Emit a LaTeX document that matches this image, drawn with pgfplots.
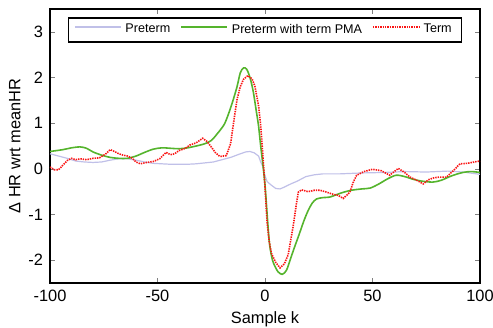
\documentclass[border=0pt]{standalone}
\usepackage{pgfplots}
\pgfplotsset{compat=1.18}
\usepackage{fontspec}
\setmainfont{Liberation Sans}
\definecolor{pre}{RGB}{192,192,232}
\definecolor{grn}{RGB}{85,180,45}
\definecolor{trm}{RGB}{250,20,20}
\begin{document}
\begin{tikzpicture}
\useasboundingbox (-25pt,-22pt) rectangle (221.5pt,141.5pt);
\begin{axis}[
  at={(0,0)}, anchor=south west,
  scale only axis, width=215pt, height=137pt,
  xmin=-100, xmax=100, ymin=-2.5, ymax=3.5,
  xtick={-100,-50,0,50,100}, ytick={-2,-1,0,1,2,3},
  tick align=inside, major tick length=2.5pt,
  font=\fontsize{8.2}{10}\selectfont,
  /pgf/number format/assume math mode=true,
  xlabel={Sample k}, ylabel={Δ HR wrt meanHR},
  xlabel style={yshift=2pt},
  ylabel style={yshift=-3pt},
  axis line style={line width=0.6pt},
  legend columns=3,
  legend style={at={(0.5,0.97)}, anchor=north, draw=black, line width=0.7pt,
    font=\fontsize{6.3}{7.5}\selectfont, inner xsep=3pt, inner ysep=1.5pt,
    nodes={inner xsep=2pt, inner ysep=1.5pt},
    /tikz/every even column/.append style={column sep=3pt}},
  legend image code/.code={\draw[#1] (0pt,1.5pt) -- (23pt,1.5pt);},
]
\addplot[pre, line width=0.6pt] coordinates {
(-100,0.33) (-96,0.28) (-92,0.23) (-88,0.17) (-84,0.15) (-80,0.14) (-76,0.15)
(-72,0.19) (-68,0.22) (-64,0.22) (-60,0.19) (-56,0.15) (-52,0.12) (-48,0.11)
(-44,0.10) (-40,0.10) (-36,0.10) (-32,0.11) (-28,0.13) (-24,0.15) (-20,0.20)
(-16,0.25) (-12,0.32) (-9,0.37) (-7,0.38) (-5,0.35) (-3,0.28) (-2,0.15)
(-1,0.05) (0,-0.15) (1,-0.28) (3,-0.36) (5,-0.43) (7,-0.44) (9,-0.40)
(12,-0.33) (15,-0.27) (19,-0.17) (23,-0.13) (27,-0.11) (35,-0.11) (45,-0.09)
(55,-0.08) (65,-0.06) (75,-0.07) (85,-0.05) (92,-0.07) (100,-0.12)
};
\addlegendentry{Preterm}
\addplot[grn, line width=0.8pt, smooth] coordinates {
(-100,0.38) (-94,0.42) (-90,0.46) (-86,0.48) (-83,0.45) (-80,0.37) (-76,0.30)
(-72,0.25) (-68,0.23) (-64,0.23) (-60,0.28) (-56,0.36) (-52,0.43) (-48,0.46)
(-44,0.45) (-40,0.44) (-36,0.46) (-32,0.50) (-28,0.55) (-25,0.62) (-22,0.78)
(-19,0.97) (-17,1.20) (-15,1.48) (-13,1.80) (-11.5,2.10) (-10,2.21) (-8.5,2.18)
(-7,2.00) (-5.5,1.70) (-4,1.25) (-3,0.94) (-2,0.50) (-1,0.1) (0,-0.35)
(1,-1.0) (2,-1.60) (3,-1.90) (4,-2.07) (6,-2.25) (8,-2.31) (10,-2.22)
(12,-1.95) (14,-1.68) (16,-1.42) (18,-1.15) (20,-0.92) (22,-0.75) (24,-0.66)
(27,-0.63) (30,-0.62) (33,-0.57) (36,-0.52) (40,-0.47) (45,-0.44) (49,-0.42)
(53,-0.33) (57,-0.22) (61,-0.14) (65,-0.17) (69,-0.23) (73,-0.27) (78,-0.29)
(82,-0.25) (87,-0.15) (92,-0.08) (96,-0.06) (100,-0.08)
};
\addlegendentry{Preterm with term PMA}
\addplot[trm, line width=0.8pt, dash pattern=on 0.7pt off 0.5pt] coordinates {
(-100,0.04) (-98,-0.02) (-96,-0.02) (-94,0.08) (-92,0.18) (-90,0.23) (-88,0.20)
(-86,0.22) (-83,0.20) (-80,0.23) (-77,0.24) (-74,0.33) (-72,0.42) (-70,0.38)
(-68,0.33) (-66,0.30) (-64,0.28) (-62,0.24) (-60,0.15) (-58,0.11) (-55,0.14)
(-52,0.16) (-49,0.22) (-46,0.36) (-44,0.31) (-42,0.33) (-40,0.40) (-37,0.45)
(-35,0.52) (-32,0.57) (-29,0.67) (-27,0.60) (-25.5,0.51) (-23,0.35) (-21,0.27)
(-18,0.29) (-16,0.55) (-14.5,1.05) (-13,1.52) (-11.5,1.80) (-10,1.96) (-8,2.04)
(-6,1.97) (-4.7,1.81) (-3,1.38) (-2,0.95) (-1,0.3) (0,-0.4) (1,-1.2)
(2,-1.6) (3,-1.85) (5,-2.05) (7,-2.17) (9,-2.08) (10.8,-1.88) (12,-1.55)
(13.2,-1.23) (14.5,-0.80) (15.5,-0.51) (17,-0.46) (20,-0.50) (23,-0.47) (25.6,-0.47)
(28,-0.50) (31.8,-0.56) (34,-0.58) (36.4,-0.65) (39.5,-0.51) (41,-0.30) (42.6,-0.14)
(46,-0.06) (50,-0.01) (54,-0.04) (58,-0.14) (62,0.01) (65,-0.08) (67.4,-0.18)
(71,-0.26) (73.6,-0.33) (76,-0.24) (78.3,-0.20) (81,-0.18) (84.5,-0.18) (88,-0.02)
(90.7,0.11) (94,0.12) (98.5,0.16) (100,0.17)
};
\addlegendentry{Term}
\end{axis}
\end{tikzpicture}
\end{document}
